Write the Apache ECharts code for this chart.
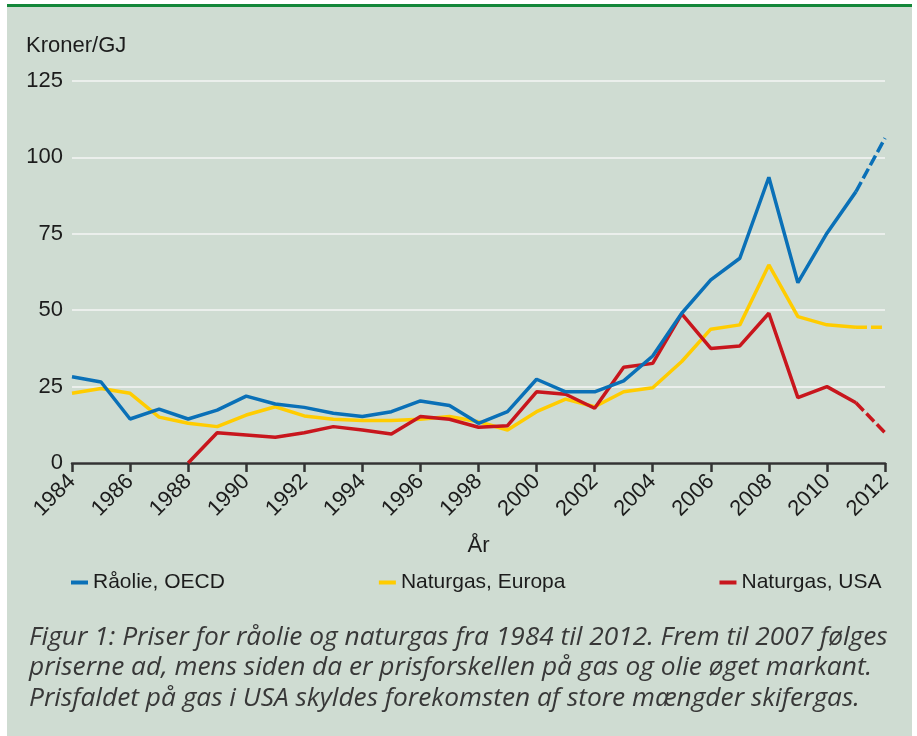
<!DOCTYPE html>
<html>
<head>
<meta charset="utf-8">
<title>Priser for råolie og naturgas 1984-2012</title>
<script src="https://cdn.jsdelivr.net/npm/echarts@6.0.0/dist/echarts.min.js"></script>
<style>
  html, body { margin: 0; padding: 0; background: #fff; }
  #chart { width: 917px; height: 736px; }
</style>
</head>
<body>
<div id="chart"></div>
<script>
"use strict";

// Years on the x axis
const years = [];
for (let y = 1984; y <= 2012; y++) years.push(String(y));

// Kroner per GJ (1984 .. 2012)
const raolieOECD = [28.2, 26.5, 14.4, 17.6, 14.4, 17.3, 21.9, 19.3, 18.2, 16.3,
                    15.2, 16.8, 20.3, 18.8, 13.0, 16.8, 27.4, 23.3, 23.3, 26.9,
                    35.0, 49.0, 59.9, 67.0, 93.5, 59.0, 75.2, 88.8, 106.3];
const naturgasEuropa = [22.8, 24.4, 22.8, 15.0, 13.0, 11.9, 15.7, 18.4, 15.4, 14.3,
                        13.9, 13.9, 14.3, 15.2, 13.5, 10.8, 16.8, 20.9, 18.4, 23.3,
                        24.6, 33.2, 43.8, 45.2, 64.8, 47.9, 45.2, 44.4, 44.4];
const naturgasUSA = [null, null, null, null, 0, 9.9, 9.2, 8.4, 9.9, 11.9,
                     10.8, 9.5, 15.2, 14.3, 11.7, 12.2, 23.3, 22.5, 17.9, 31.3,
                     32.6, 48.8, 37.5, 38.3, 49.0, 21.4, 25.0, 19.7, 9.9];

// the last year (2011 -> 2012) is drawn dashed
const lastSolid = years.indexOf("2011");

const seriesDefs = [
  { name: "Naturgas, Europa", data: naturgasEuropa, color: "#ffcc00" },
  { name: "Naturgas, USA",    data: naturgasUSA,    color: "#c8161d" },
  { name: "Råolie, OECD",     data: raolieOECD,     color: "#0a70b7" },
];
const legendOrder = ["Råolie, OECD", "Naturgas, Europa", "Naturgas, USA"];

const FONT = "'Liberation Sans', Arial, sans-serif";
const INK = "#1c1c1c";

const series = [];
seriesDefs.forEach(d => {
  const solid = d.data.map((v, i) => (i <= lastSolid ? v : null));
  const dashed = d.data.map((v, i) => (i >= lastSolid ? v : null));
  const base = {
    type: "line", name: d.name, color: d.color,
    symbol: "none", silent: true,
  };
  series.push({ ...base, data: solid, lineStyle: { color: d.color, width: 3.5 } });
  series.push({ ...base, data: dashed,
                lineStyle: { color: d.color, width: 3.5, type: [11, 4] } });
});

const chart = echarts.init(document.getElementById("chart"), null, { renderer: "canvas" });
chart.setOption({
  animation: false,
  backgroundColor: "#fff",
  textStyle: { fontFamily: FONT, color: INK },
  graphic: [
    // panel + green top rule
    { type: "rect", z: -10, shape: { x: 7, y: 4, width: 905, height: 732 },
      style: { fill: "#cfdcd2" } },
    { type: "rect", z: -9, shape: { x: 7, y: 4, width: 905, height: 3 },
      style: { fill: "#14873a" } },
    { type: "text", left: 26, top: 35,
      style: { text: "Kroner/GJ", font: "22px " + FONT, fill: INK } },
    { type: "text", left: 29, top: 622,
      style: {
        text: "Figur 1: Priser for råolie og naturgas fra 1984 til 2012. Frem til 2007 følges\n" +
              "priserne ad, mens siden da er prisforskellen på gas og olie øget markant.\n" +
              "Prisfaldet på gas i USA skyldes forekomsten af store mængder skifergas.",
        font: "italic 26.3px 'Open Sans', sans-serif", fill: "#383838", lineHeight: 30.5,
      } },
  ],
  legend: {
    data: legendOrder,
    left: 71, top: 572, padding: 0,
    itemGap: 154, itemWidth: 17, itemHeight: 4,
    icon: "rect",
    selectedMode: false,
    textStyle: { fontSize: 21, color: INK, fontFamily: FONT },
  },
  grid: { left: 72, right: 32, top: 81, bottom: 273 },
  xAxis: {
    type: "category", data: years, boundaryGap: false,
    name: "År", nameLocation: "middle", nameGap: 72,
    nameTextStyle: { fontSize: 22, color: INK },
    axisLine: { lineStyle: { color: "#333", width: 2.5 } },
    axisTick: { interval: 1, length: 9, lineStyle: { color: "#333", width: 2.5 } },
    axisLabel: { interval: 1, rotate: 45, fontSize: 22, color: INK, margin: 15 },
  },
  yAxis: {
    type: "value", min: 0, max: 125, interval: 25,
    axisLine: { show: false }, axisTick: { show: false },
    axisLabel: { fontSize: 22, color: INK, margin: 9 },
    splitLine: { lineStyle: { color: "#f4f6f4", width: 1.5 } },
  },
  series,
});
</script>
</body>
</html>
